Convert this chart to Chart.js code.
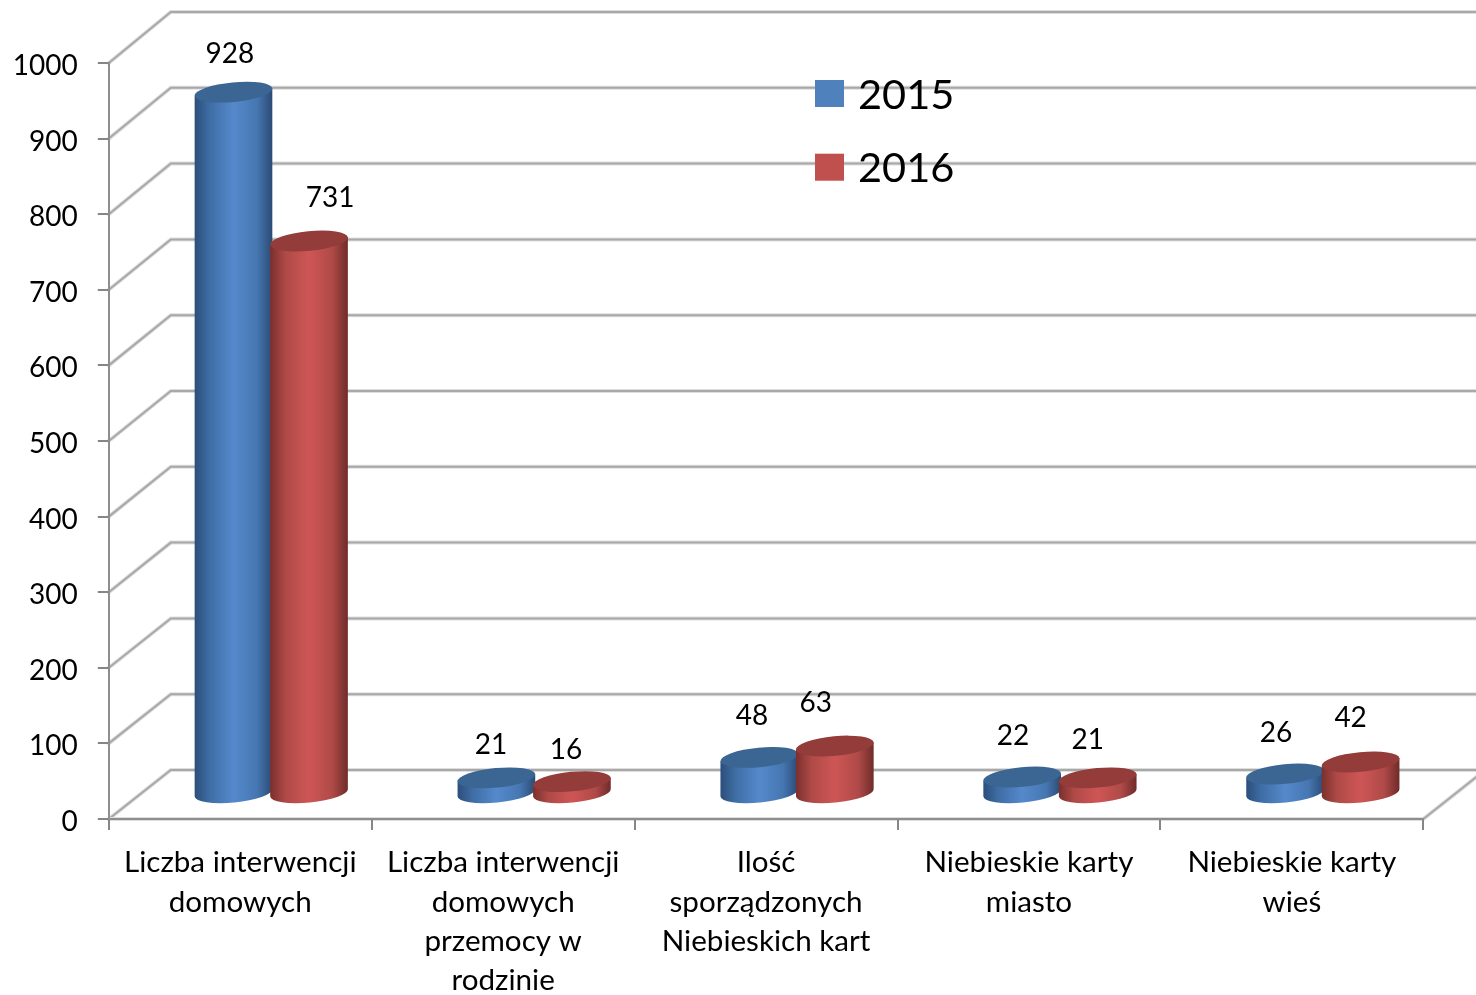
<!DOCTYPE html>
<html><head><meta charset="utf-8">
<style>html,body{margin:0;padding:0;background:#fff}canvas{display:block}</style>
<script src="https://cdn.jsdelivr.net/npm/chart.js@4/dist/chart.umd.min.js"></script>
</head><body><canvas id="c" width="1476" height="995"></canvas>
<script>
const categories = [
  ['Liczba interwencji','domowych'],
  ['Liczba interwencji','domowych','przemocy w','rodzinie'],
  ['Ilość','sporządzonych','Niebieskich kart'],
  ['Niebieskie karty','miasto'],
  ['Niebieskie karty','wieś']
];
const values2015 = [928, 21, 48, 22, 26];
const values2016 = [731, 16, 63, 21, 42];
const yTicks = [0,100,200,300,400,500,600,700,800,900,1000];

const FONT = 'Lato, Carlito, sans-serif';
const nudge2015 = [[-3.5,-38],[-5.4,-33],[-7.3,-41],[-9.2,-41],[-9.1,-41]];
const nudge2016 = [[21,-43],[-6,-32],[-19,-43],[-10,-38],[-10,-44]];
const WALL = {dx:62, dy:-49}, BAR = {dx:31, dy:-25.3};
const ROT = -5.5*Math.PI/180, RY = 9.8;
const looks = [
  {top:'#3B6693', stops:['#2C4E7A','#3F6EA6','#5589CB','#4677B2','#2B4A73']},
  {top:'#933C3A', stops:['#7A2F2D','#AF4A47','#CE5655','#AF4A48','#6E2B29']}
];

const scene = {
  id:'scene',
  beforeDraw(chart){
    const {ctx, chartArea:a, scales:{y}} = chart;
    ctx.save();
    ctx.lineCap='round';
    const stroke=(pts)=>{
      [[4,'#DEDEDE'],[2,'#A8A8A8']].forEach(([w,col])=>{
        ctx.lineWidth=w; ctx.strokeStyle=col; ctx.beginPath();
        ctx.moveTo(pts[0][0],pts[0][1]);
        pts.slice(1).forEach(p=>ctx.lineTo(p[0],p[1]));
        ctx.stroke();
      });
    };
    yTicks.forEach(v=>{
      const py=y.getPixelForValue(v), back=py+WALL.dy-2*v/y.max;
      stroke([[a.left,py],[a.left+WALL.dx,back],[chart.width+5,back]]);
    });
    stroke([[a.left,a.bottom],[a.right,a.bottom],[a.right+WALL.dx,a.bottom+WALL.dy]]);
    ctx.restore();
  },
  beforeDatasetsDraw(chart){
    const ctx=chart.ctx;
    chart.data.datasets.forEach((ds,d)=>{
      const look=looks[d];
      chart.getDatasetMeta(d).data.forEach(el=>{
        const cx=el.x+BAR.dx, rx=el.width/2, top=el.y+BAR.dy, base=el.base+BAR.dy;
        const ex=rx*Math.cos(ROT), ey=rx*Math.sin(ROT);
        const g=ctx.createLinearGradient(cx-rx,0,cx+rx,0);
        [0,.2,.5,.8,1].forEach((s,i)=>g.addColorStop(s,look.stops[i]));
        ctx.save();
        ctx.fillStyle=g;
        ctx.beginPath();
        ctx.moveTo(cx-ex,top-ey);
        ctx.ellipse(cx,base,rx,RY,ROT,Math.PI,0,true);
        ctx.lineTo(cx+ex,top+ey);
        ctx.closePath();
        ctx.fill();
        ctx.fillStyle=look.top;
        ctx.beginPath();
        ctx.ellipse(cx,top,rx,RY,ROT,0,Math.PI*2);
        ctx.fill();
        ctx.restore();
      });
    });
    ctx.save();
    ctx.fillStyle='#000';
    ctx.textAlign='center';
    ctx.textBaseline='middle';
    ctx.font='28px '+FONT;
    [nudge2015,nudge2016].forEach((nudge,d)=>{
      chart.getDatasetMeta(d).data.forEach((el,i)=>{
        ctx.fillText(String(chart.data.datasets[d].data[i]), el.x+BAR.dx+nudge[i][0], el.y+BAR.dy+nudge[i][1]);
      });
    });
    // legend
    ctx.textAlign='left';
    ctx.font='41.5px '+FONT;
    chart.data.datasets.forEach((ds,d)=>{
      const top=80+d*73.7;
      ctx.fillStyle=ds.backgroundColor;
      ctx.fillRect(815,top,29,27);
      ctx.fillStyle='#000';
      ctx.fillText(ds.label,858,top+15.5-d);
    });
    ctx.restore();
    return false;
  }
};

new Chart(document.getElementById('c'),{
  type:'bar',
  data:{
    labels:categories,
    datasets:[
      {label:'2015',data:values2015,backgroundColor:'#4F81BD'},
      {label:'2016',data:values2016,backgroundColor:'#C0504D'}
    ]
  },
  options:{
    responsive:false,
    animation:false,
    events:[],
    categoryPercentage:0.5746,
    barPercentage:1.033,
    layout:{autoPadding:false,padding:{top:63,right:52.7,left:0,bottom:0}},
    plugins:{legend:{display:false},tooltip:{enabled:false}},
    scales:{
      x:{
        offset:true,
        afterFit(s){s.height=176;},
        border:{color:'#8E8E8E',width:2},
        grid:{drawOnChartArea:false,drawTicks:true,tickLength:11,color:'#868686',lineWidth:2,offset:true},
        ticks:{color:'#000',font:{family:FONT,size:29.6,lineHeight:1.33},maxRotation:0,minRotation:0,autoSkip:false,padding:13}
      },
      y:{
        min:0,max:1000,
        afterFit(s){s.width=108.8;},
        afterBuildTicks(s){s.ticks=yTicks.map(v=>({value:v}));},
        border:{color:'#8E8E8E',width:2},
        grid:{drawOnChartArea:false,drawTicks:true,tickLength:11,color:'#868686',lineWidth:2},
        ticks:{color:'#000',font:{family:FONT,size:28},padding:20,labelOffset:3,callback:v=>String(v)}
      }
    }
  },
  plugins:[scene]
});
</script></body></html>
